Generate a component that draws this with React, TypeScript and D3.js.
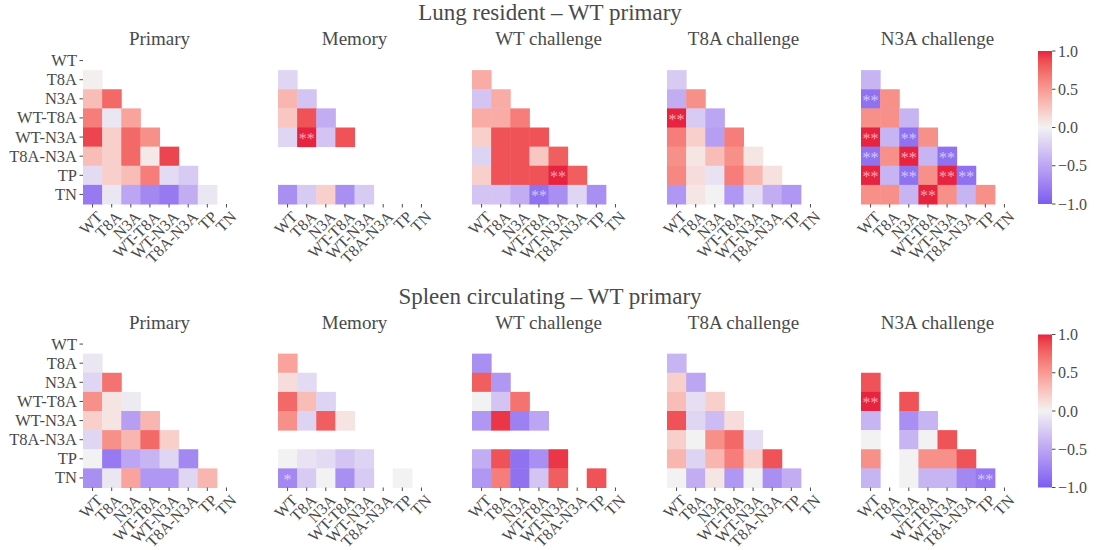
import React from "react";
import * as d3 from "d3";

// labels shared by every panel
const labels = ["WT", "T8A", "N3A", "WT-T8A", "WT-N3A", "T8A-N3A", "TP", "TN"];
const panelTitles = ["Primary", "Memory", "WT challenge", "T8A challenge", "N3A challenge"];
const cbTicks = [1.0, 0.5, 0.0, -0.5, -1.0];

// lower triangle rows T8A..TN, columns WT.. (null = no value)
const lungPrimary = [
  [0.02],
  [0.3, 0.75],
  [0.65, -0.08, 0.45],
  [0.9, 0.2, 0.75, 0.55],
  [0.3, 0.2, 0.75, 0.05, 0.9],
  [-0.15, 0.2, 0.3, 0.65, -0.15, -0.25],
  [-0.8, -0.08, -0.5, -0.7, -0.8, -0.45, -0.08],
];
const lungMemory = [
  [-0.18],
  [0.35, -0.3],
  [0.25, 0.85, -0.45],
  [-0.18, 1.0, -0.3, 0.85],
  [null, null, null, null, null],
  [null, null, null, null, null, null],
  [-0.65, -0.25, 0.2, -0.65, -0.25, null, null],
];
const lungWT = [
  [0.4],
  [-0.3, 0.4],
  [0.4, 0.4, 0.65],
  [0.2, 0.85, 0.85, 0.85],
  [-0.2, 0.85, 0.85, 0.25, 0.8],
  [0.2, 0.85, 0.85, 0.85, 1.0, 0.8],
  [-0.3, -0.3, -0.45, -0.85, -0.65, -0.18, -0.65],
];
const lungT8A = [
  [-0.25],
  [-0.45, 0.55],
  [1.0, -0.25, -0.5],
  [0.65, 0.2, -0.55, 0.65],
  [0.55, 0.07, 0.3, 0.55, 0.07],
  [0.6, 0.12, -0.1, 0.65, 0.35, 0.1],
  [-0.6, 0.07, 0.0, -0.6, -0.12, -0.45, -0.6],
];
const lungN3A = [
  [-0.4],
  [-0.85, 0.55],
  [0.55, 0.55, -0.4],
  [1.0, -0.4, -0.85, 0.55],
  [-0.85, 0.55, 1.0, -0.4, -0.85],
  [1.0, -0.4, -0.85, 0.55, 1.0, -0.85],
  [0.55, 0.55, -0.4, 1.0, 0.55, -0.4, 0.55],
];

const spleenPrimary = [
  [-0.08],
  [-0.18, 0.7],
  [0.55, 0.08, -0.05],
  [0.2, 0.08, -0.55, 0.35],
  [-0.18, 0.55, 0.35, 0.75, 0.2],
  [0.0, -0.8, -0.5, -0.4, -0.18, -0.7],
  [-0.65, -0.08, 0.45, -0.6, -0.6, -0.18, 0.35],
];
const spleenMemory = [
  [0.45],
  [0.12, -0.15],
  [0.75, 0.3, -0.2],
  [0.55, -0.2, 0.8, 0.08],
  [null, null, null, null, null],
  [0.0, -0.1, -0.15, -0.3, -0.2, null],
  [-0.7, -0.25, 0.0, -0.65, -0.25, null, 0.0],
];
const spleenWT = [
  [-0.65],
  [0.8, -0.6],
  [0.0, -0.3, 0.7],
  [-0.6, 0.95, -0.75, -0.5],
  [null, null, null, null, null],
  [-0.45, 0.85, -0.85, -0.65, 0.95, null],
  [-0.6, 0.65, -0.85, -0.3, 0.8, null, 0.85],
];
const spleenT8A = [
  [-0.4],
  [0.2, -0.5],
  [0.3, -0.12, 0.2],
  [0.85, -0.18, -0.35, 0.12],
  [0.2, 0.0, 0.55, 0.75, -0.12],
  [0.35, -0.2, 0.35, 0.65, 0.2, 0.85],
  [0.0, -0.45, 0.07, -0.6, 0.0, -0.65, -0.45],
];
const spleenN3A = [
  [null],
  [0.85, null],
  [1.0, null, 0.85],
  [-0.4, null, -0.65, -0.4],
  [0.0, null, -0.4, 0.0, 0.85],
  [0.55, null, 0.0, 0.55, 0.55, 0.85],
  [-0.4, null, 0.0, -0.4, -0.4, -0.7, -0.8],
];

// significance marks: [panel, row, col, mark]
const lungStars: [number, string, string, string][] = [
  [1, "WT-N3A", "T8A", "**"],
  [2, "TN", "WT-T8A", "**"],
  [2, "TP", "WT-N3A", "**"],
  [3, "WT-T8A", "WT", "**"],
  [4, "N3A", "WT", "**"],
  [4, "WT-N3A", "WT", "**"],
  [4, "WT-N3A", "N3A", "**"],
  [4, "T8A-N3A", "WT", "**"],
  [4, "T8A-N3A", "N3A", "**"],
  [4, "T8A-N3A", "WT-N3A", "**"],
  [4, "TP", "WT", "**"],
  [4, "TP", "N3A", "**"],
  [4, "TP", "WT-N3A", "**"],
  [4, "TP", "T8A-N3A", "**"],
  [4, "TN", "WT-T8A", "**"],
];
const spleenStars: [number, string, string, string][] = [
  [1, "TN", "WT", "*"],
  [4, "WT-T8A", "WT", "**"],
  [4, "TN", "TP", "**"],
];

const W = 1097;
const H = 550;
const FONT = "Liberation Serif";
const TXT = "#4a4a4a";
const panelLefts = [83, 278, 472, 667, 861];
const side = 153;

const color = d3
  .scaleLinear<string>()
  .domain([-1, 0, 1])
  .range(["#7a5cf0", "#f2f2f2", "#e8233f"])
  .interpolate(d3.interpolateLab)
  .clamp(true);

function Heatmap({ data, left, top, title, showY, stars, idx }: any) {
  const x = d3.scaleBand().domain(labels).range([left, left + side]);
  const y = d3.scaleBand().domain(labels).range([top, top + side]);
  const bw = x.bandwidth();
  const cells: any[] = [];
  data.forEach((row: (number | null)[], ri: number) => {
    row.forEach((v, ci) => {
      if (v === null) return;
      cells.push({ r: labels[ri + 1], c: labels[ci], v });
    });
  });
  const bottom = top + side;
  return (
    <g>
      <text x={left + side / 2} y={top - 6} textAnchor="middle" fontSize={19} fill={TXT}>
        {title}
      </text>
      {cells.map((d, i) => (
        <rect key={i} x={x(d.c)} y={y(d.r)} width={bw + 0.5} height={bw + 0.5} fill={color(d.v)} />
      ))}
      {stars
        .filter((s: any) => s[0] === idx)
        .map((s: any, i: number) => (
          <text
            key={"s" + i}
            x={(x(s[2]) as number) + bw / 2}
            y={(y(s[1]) as number) + bw / 2 + 7}
            textAnchor="middle"
            fontSize={16}
            fill="#ffffff"
            fillOpacity={0.6}
          >
            {s[3]}
          </text>
        ))}
      {labels.map((l) => {
        const cx = (x(l) as number) + bw / 2;
        return (
          <g key={"x" + l}>
            <line x1={cx} x2={cx} y1={bottom} y2={bottom + 3.5} stroke={TXT} strokeWidth={1} />
            <text
              transform={`translate(${cx + 3},${bottom + 6}) rotate(-45)`}
              textAnchor="end"
              dominantBaseline="hanging"
              fontSize={16}
              fill={TXT}
            >
              {l}
            </text>
          </g>
        );
      })}
      {showY &&
        labels.map((l) => {
          const cy = (y(l) as number) + bw / 2;
          return (
            <g key={"y" + l}>
              <line x1={left - 3.5} x2={left} y1={cy} y2={cy} stroke={TXT} strokeWidth={1} />
              <text x={left - 6} y={cy} textAnchor="end" dominantBaseline="central" fontSize={16.5} fill={TXT}>
                {l}
              </text>
            </g>
          );
        })}
    </g>
  );
}

function Colorbar({ top, id }: { top: number; id: string }) {
  const x0 = 1038;
  const w = 14;
  const s = d3.scaleLinear().domain([1, -1]).range([top, top + side]);
  const stops = d3.range(-1, 1.001, 0.1);
  return (
    <g>
      <defs>
        <linearGradient id={id} x1="0" y1="1" x2="0" y2="0">
          {stops.map((v, i) => (
            <stop key={i} offset={(v + 1) / 2} stopColor={color(v)} />
          ))}
        </linearGradient>
      </defs>
      <rect x={x0} y={top} width={w} height={side} fill={`url(#${id})`} />
      {cbTicks.map((t) => (
        <g key={t}>
          <line x1={x0 + w} x2={x0 + w + 3.5} y1={s(t)} y2={s(t)} stroke={TXT} />
          <text x={x0 + w + 6} y={s(t)} dominantBaseline="central" fontSize={16} fill={TXT}>
            {d3.format(".1f")(t).replace("-", "\u2212")}
          </text>
        </g>
      ))}
    </g>
  );
}

function Block({ panels, top, title, stars, id }: any) {
  return (
    <g>
      <text x={550} y={top - 31} textAnchor="middle" fontSize={23} fill={TXT}>
        {title}
      </text>
      {panels.map((p: any, i: number) => (
        <Heatmap
          key={i}
          idx={i}
          data={p}
          left={panelLefts[i]}
          top={top}
          title={panelTitles[i]}
          showY={i === 0}
          stars={stars}
        />
      ))}
      <Colorbar top={top} id={id} />
    </g>
  );
}

export default function App() {
  return (
    <svg
      width={W}
      height={H}
      fontFamily={FONT}
      style={{ position: "absolute", left: 0, top: 0, background: "#fff" }}
    >
      <Block
        panels={[lungPrimary, lungMemory, lungWT, lungT8A, lungN3A]}
        top={51}
        title="Lung resident – WT primary"
        stars={lungStars}
        id="cb1"
      />
      <Block
        panels={[spleenPrimary, spleenMemory, spleenWT, spleenT8A, spleenN3A]}
        top={334.5}
        title="Spleen circulating – WT primary"
        stars={spleenStars}
        id="cb2"
      />
    </svg>
  );
}
